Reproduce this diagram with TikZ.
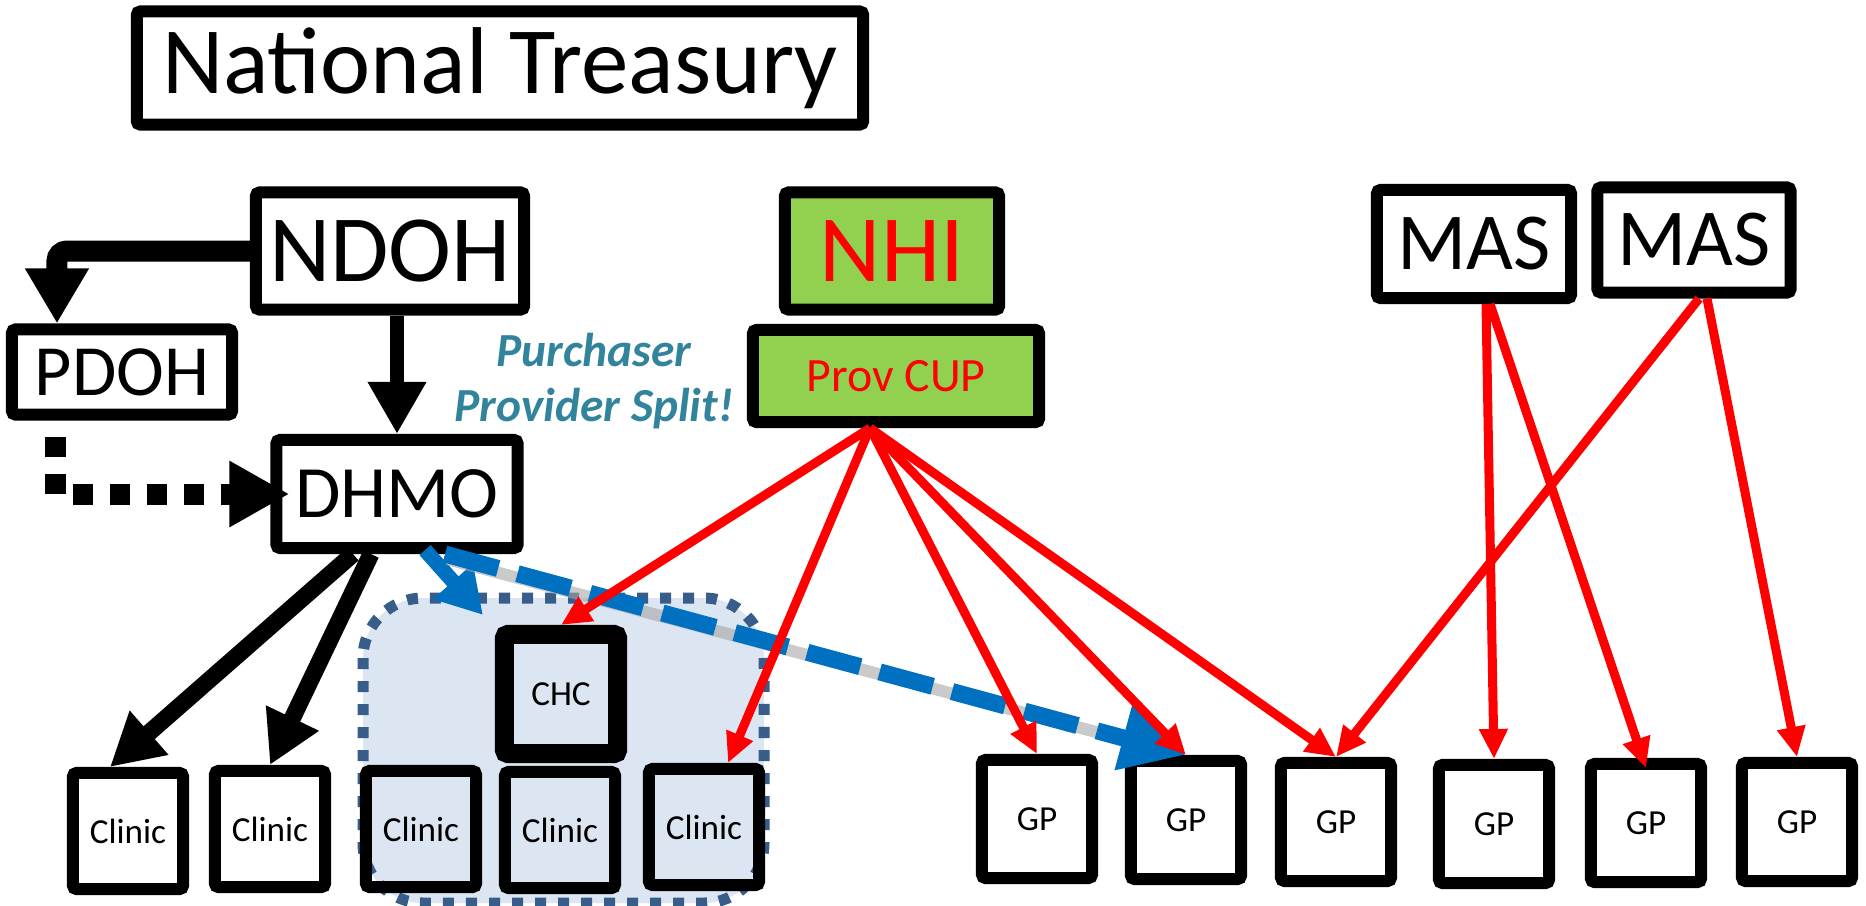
\documentclass[tikz,border=0pt]{standalone}
\usepackage{fontspec}
\setmainfont{Carlito}
\usetikzlibrary{arrows.meta}
\definecolor{nhigreen}{HTML}{92D050}
\definecolor{splitteal}{HTML}{31849B}
\definecolor{dhmoblue}{HTML}{0070C0}
\definecolor{groupfill}{HTML}{DCE6F2}
\definecolor{groupline}{HTML}{385D8A}

\begin{document}
\begin{tikzpicture}[x=0.01cm, y=-0.01cm,
	box/.style={draw, line width=0.12cm, rounded corners=1pt, inner sep=0pt, align=center},
	greenbox/.style={box, fill=nhigreen, text=red},
	clinicbox/.style={box, minimum width=1.1cm, minimum height=1.16cm, font=\fontsize{10}{12}\selectfont},
	gpbox/.style={box, fill=white, minimum width=1.1cm, minimum height=1.18cm, font=\fontsize{10}{12}\selectfont},
	fatarrow/.style={line width=0.21cm, -{Triangle[length=0.55cm, width=0.6cm]}},
	blackarrow/.style={line width=0.17cm, -{Triangle[length=0.52cm, width=0.55cm]}},
	dotarrow/.style={line width=0.21cm, dash pattern=on 0.2cm off 0.17cm, -{Triangle[length=0.6cm, width=0.62cm]}},
	redarrow/.style={red, line width=0.09cm, -{Triangle[length=0.3cm, width=0.27cm]}},
	bluearrow/.style={dhmoblue, line width=0.15cm, -{Triangle[length=0.45cm, width=0.5cm]}},
	bluedash/.style={dhmoblue, line width=0.17cm, dash pattern=on 0.55cm off 0.2cm, -{Triangle[length=0.65cm, width=0.62cm]}}
	]
	
	\useasboundingbox (0,0) rectangle (1866,905);
	
	\fill[groupfill, rounded corners=0.6cm] (363,598) rectangle (764,903);
	\draw[groupline, line width=0.11cm, dash pattern=on 0.11cm off 0.12cm, rounded corners=0.6cm] (363,598) rectangle (764,903);
	
	\node [box, minimum width=7.26cm, minimum height=1.13cm, font=\fontsize{27}{30}\selectfont] (NT) at (500,68){National Treasury};
	\node [box, minimum width=2.68cm, minimum height=1.17cm, font=\fontsize{27}{30}\selectfont] (NDOH) at (390,251){NDOH};
	\node [box, minimum width=2.2cm, minimum height=0.85cm, font=\fontsize{20.5}{24}\selectfont] (PDOH) at (122,372){PDOH};
	\node [box, minimum width=2.41cm, minimum height=1.08cm, font=\fontsize{21}{24}\selectfont] (DHMO) at (397,494){DHMO};
	\node [greenbox, minimum width=2.14cm, minimum height=1.17cm, font=\fontsize{27}{30}\selectfont] (NHI) at (892,251){NHI};
	\node [greenbox, minimum width=2.86cm, minimum height=0.92cm, font=\fontsize{13.6}{16}\selectfont] (ProvCUP) at (896,376){Prov CUP};
	\node [box, minimum width=1.94cm, minimum height=1.08cm, font=\fontsize{23}{26}\selectfont] (MAS1) at (1474,244){MAS};
	\node [box, minimum width=1.93cm, minimum height=1.05cm, font=\fontsize{23}{26}\selectfont] (MAS2) at (1694,240){MAS};
	
	\node [text=splitteal, align=center, font=\bfseries\itshape\fontsize{13.5}{15.6}\selectfont] (split) at (594,381){Purchaser\\Provider Split!};
	
	\node [clinicbox, fill=white] (C1) at (128,831){Clinic};
	\node [clinicbox, fill=white] (C2) at (270,829){Clinic};
	\node [clinicbox] (C3) at (421,829){Clinic};
	\node [clinicbox] (C4) at (560,830){Clinic};
	\node [clinicbox] (C5) at (704,827){Clinic};
	\node [clinicbox, line width=0.19cm, minimum width=1.13cm, minimum height=1.19cm] (CHC) at (561,694){CHC};
	
	\node [gpbox] (GP1) at (1037,819){GP};
	\node [gpbox] (GP2) at (1186,820){GP};
	\node [gpbox] (GP3) at (1336,822){GP};
	\node [gpbox] (GP4) at (1494,824){GP};
	\node [gpbox] (GP5) at (1646,823){GP};
	\node [gpbox] (GP6) at (1797,822){GP};
	
	\draw[fatarrow, rounded corners=0.1cm] (NDOH.west) -| ([xshift=0.51cm]PDOH.north west);
	\draw[blackarrow, line width=0.13cm] (DHMO.north |- NDOH.south) -- (DHMO.north);
	\draw[dotarrow] ([xshift=0.5cm, yshift=-0.16cm]PDOH.south west) |- ([xshift=0.19cm]DHMO.west);
	\draw[blackarrow] ([xshift=-0.44cm]DHMO.south) -- ([xshift=-0.18cm]C1.north);
	\draw[blackarrow] ([xshift=-0.26cm]DHMO.south) -- (C2.north);
	
	\draw[bluearrow] ([xshift=0.28cm, yshift=0.04cm]DHMO.south) -- ([xshift=-0.78cm, yshift=0.1cm]CHC.north);
	\draw[gray!70, line width=0.12cm, opacity=0.6] ([xshift=0.5cm, yshift=-0.05cm]DHMO.south) -- ([xshift=-0.6cm, yshift=0.15cm]GP2.north);
	\draw[bluedash] ([xshift=0.48cm]DHMO.south) -- (GP2.north);
	
	\draw[redarrow] ([xshift=-0.26cm]ProvCUP.south) -- (CHC.north);
	\draw[redarrow] ([xshift=-0.26cm]ProvCUP.south) -- ([xshift=0.24cm]C5.north);
	\draw[redarrow] ([xshift=-0.26cm]ProvCUP.south) -- (GP1.north);
	\draw[redarrow] ([xshift=-0.26cm]ProvCUP.south) -- (GP2.north);
	\draw[redarrow] ([xshift=-0.26cm]ProvCUP.south) -- (GP3.north);
	
	\draw[redarrow] ([xshift=0.12cm]MAS1.south) -- (GP4.north);
	\draw[redarrow] ([xshift=0.16cm]MAS1.south) -- ([yshift=-0.1cm]GP5.north);
	\draw[redarrow] ([xshift=0.05cm]MAS2.south) -- (GP3.north);
	\draw[redarrow] ([xshift=0.13cm]MAS2.south) -- (GP6.north);
	
\end{tikzpicture}
\end{document}
